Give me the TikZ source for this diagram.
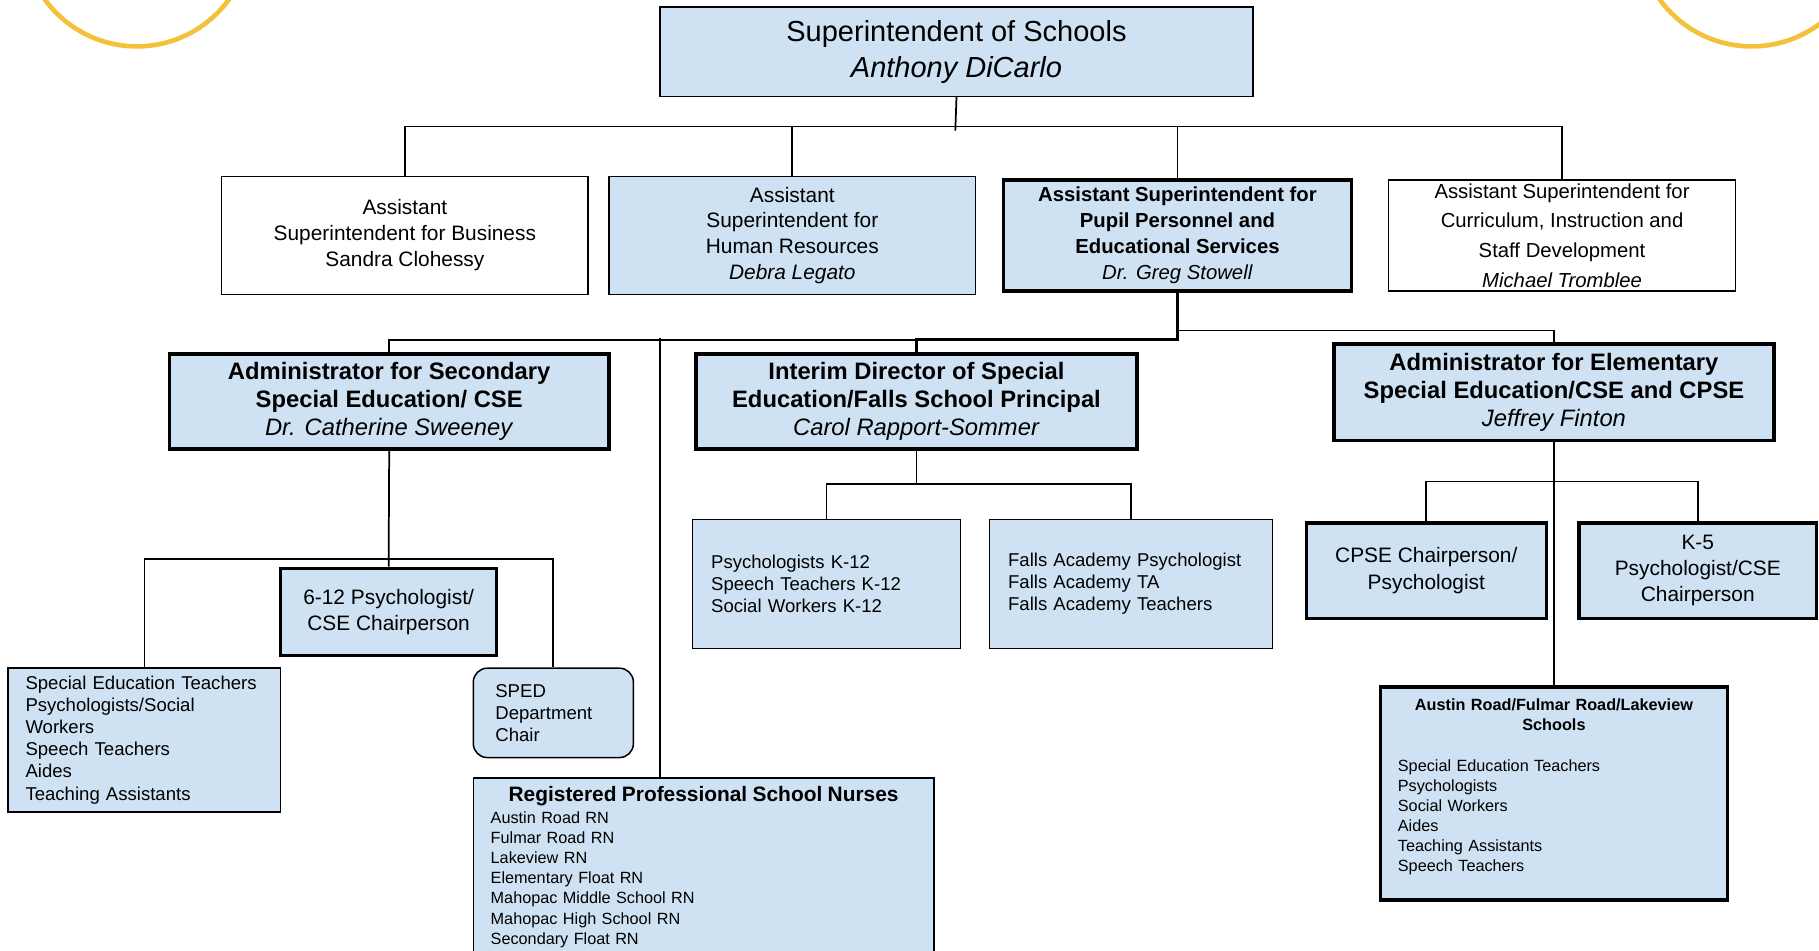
\documentclass[tikz,border=0pt]{standalone}
\usepackage{fontspec}
\setmainfont{Liberation Sans}
\definecolor{boxblue}{HTML}{CFE2F3}
\definecolor{ringyellow}{HTML}{F3C23A}
\begin{document}
\begin{tikzpicture}[x=1pt,y=-1pt,
  box/.style={draw=black, line width=1.3pt, inner sep=0pt, align=center, fill=white},
  bluebox/.style={box, fill=boxblue},
  thickbox/.style={bluebox, line width=3pt},
  conn/.style={line width=1.5pt},
  thickconn/.style={line width=2.6pt},
  ring/.style={draw=ringyellow, line width=4pt},
  fs/.style n args={2}{font=\fontsize{#1}{#2}\selectfont}
]
\fill[white] (0,0) rectangle (1568,819);
\useasboundingbox (0,0) rectangle (1568,819);

% decorative rings
\draw[ring] (118,-58) circle[radius=98];
\draw[ring] (1510,-58) circle[radius=98];

% level 0
\node[bluebox, minimum width=511, minimum height=77, fs={25}{31}] (super) at (824.5,44.5)
  {Superintendent of Schools\\\textit{Anthony DiCarlo}};

% level 1
\node[box, minimum width=316, minimum height=102, fs={18}{22.5}] (sandra) at (349,203)
  {Assistant\\Superintendent for Business\\Sandra Clohessy};
\node[bluebox, minimum width=316, minimum height=102, fs={18}{22.3}] (hr) at (683,203)
  {Assistant\\Superintendent for\\Human Resources\\\textit{Debra Legato}};
\node[thickbox, minimum width=300, minimum height=96, fs={17.5}{22.3}] (pupil) at (1015,203)
  {\textbf{Assistant Superintendent for}\\\textbf{Pupil Personnel and}\\\textbf{Educational Services}\\\textit{Dr. Greg Stowell}};
\node[box, minimum width=299, minimum height=96, fs={17.5}{25.7}] (curr) at (1346.5,203)
  {Assistant Superintendent for\\Curriculum, Instruction and\\Staff Development\\\textit{Michael Tromblee}};

% level 2
\node[thickbox, minimum width=379, minimum height=82, fs={20.5}{24}] (sec) at (335.5,346)
  {\textbf{Administrator for Secondary}\\\textbf{Special Education/ CSE}\\\textit{Dr. Catherine Sweeney}};
\node[thickbox, minimum width=380, minimum height=82, fs={20.5}{24}] (interim) at (790,346)
  {\textbf{Interim Director of Special}\\\textbf{Education/Falls School Principal}\\\textit{Carol Rapport-Sommer}};
\node[thickbox, minimum width=379, minimum height=83, fs={20.5}{24}] (elem) at (1339.5,338)
  {\textbf{Administrator for Elementary}\\\textbf{Special Education/CSE and CPSE}\\\textit{Jeffrey Finton}};

% secondary branch
\node[thickbox, minimum width=186, minimum height=75, fs={18}{23}] (six) at (335,527.5)
  {6-12 Psychologist/\\CSE Chairperson};
\node[bluebox, align=left, text width=205, inner xsep=15, minimum height=124, fs={16}{19}] (sped) at (124.5,638)
  {Special Education Teachers\\Psychologists/Social\\Workers\\Speech Teachers\\Aides\\Teaching Assistants};
\node[bluebox, rounded corners=12, align=left, text width=100, inner xsep=19, minimum height=77, fs={16}{19}] (dept) at (477,614.5)
  {SPED\\Department\\Chair};

% nurses
\node[bluebox, anchor=north, minimum width=397, minimum height=170] (nurses) at (606.5,670) {};
\node[anchor=north, align=left, text width=367, inner xsep=0, inner ysep=0, fs={14}{17.3}] (nursetext) at ([yshift=-8pt]nurses.north)
  {\makebox[\linewidth][c]{\fontsize{18}{19}\selectfont\bfseries Registered Professional School Nurses}\\[1.5pt]
   Austin Road RN\\Fulmar Road RN\\Lakeview RN\\Elementary Float RN\\Mahopac Middle School RN\\Mahopac High School RN\\Secondary Float RN};

% interim branch
\node[bluebox, align=left, text width=199, inner xsep=16, minimum height=111, fs={16}{19}] (psych) at (712.5,503.5)
  {Psychologists K-12\\Speech Teachers K-12\\Social Workers K-12};
\node[bluebox, align=left, text width=212, inner xsep=16, minimum height=111, fs={16}{19}] (falls) at (975,503.5)
  {Falls Academy Psychologist\\Falls Academy TA\\Falls Academy Teachers};

% elementary branch
\node[thickbox, minimum width=207, minimum height=82, fs={18}{23}] (cpse) at (1229.5,492)
  {CPSE Chairperson/\\Psychologist};
\node[thickbox, minimum width=205, minimum height=82, fs={18}{22.5}] (kfive) at (1463.5,492)
  {K-5\\Psychologist/CSE\\Chairperson};
\node[thickbox, align=left, text width=269, inner xsep=15, minimum height=184, fs={14}{17.3}] (austin) at (1339.5,684)
  {\makebox[\linewidth][c]{\bfseries Austin Road/Fulmar Road/Lakeview}\\
   \makebox[\linewidth][c]{\bfseries Schools}\\[17.3pt]
   Special Education Teachers\\Psychologists\\Social Workers\\Aides\\Teaching Assistants\\Speech Teachers\\[-3pt]\mbox{}};

% connector buses
\coordinate (bus1) at (0,109);
\coordinate (bus2) at (0,293);
\coordinate (bus3) at (0,285);
\coordinate (bus4) at (0,482);
\coordinate (bus5) at (0,417);
\coordinate (bus6) at (0,415);
\coordinate (nursetop) at (569,291);

% connectors
\draw[conn] (super.south) -- ++(-1,29);
\draw[conn] (sandra.north) -- (sandra.north |- bus1) -| (curr.north);
\draw[conn] (hr.north) -- (hr.north |- bus1);
\draw[conn] (pupil.north) -- (pupil.north |- bus1);

\draw[conn] (sec.north) -- (sec.north |- bus2) -- (interim.north |- bus2);
\draw[thickconn] (pupil.south) -- (pupil.south |- bus2) -- (interim.north |- bus2) -- (interim.north);
\draw[conn] (pupil.south |- bus3) -| (elem.north);
\draw[conn] (nursetop) -- (nursetop |- nurses.north);

\draw[conn] (sec.south) -- (six.north);
\draw[conn] (sped.north) -- (sped.north |- bus4) -| (dept.north);

\draw[conn] (interim.south) -- (interim.south |- bus5);
\draw[conn] (psych.north) -- (psych.north |- bus5) -| (falls.north);

\draw[conn] (elem.south) -- (austin.north);
\draw[conn] (cpse.north) -- (cpse.north |- bus6) -| (kfive.north);
\end{tikzpicture}
\end{document}
